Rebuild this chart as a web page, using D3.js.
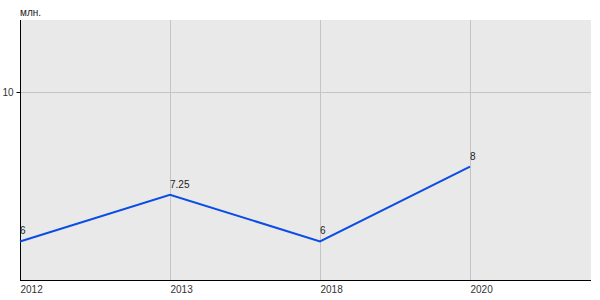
<!DOCTYPE html>
<html><head><meta charset="utf-8">
<script src="https://cdn.jsdelivr.net/npm/d3@7"></script>
<style>body{margin:0;background:#fff}svg{display:block}text{font-family:"Liberation Sans",Arial,sans-serif}</style>
</head><body>
<svg id="c" width="600" height="300"></svg>
<script>
const categories = ["2012", "2013", "2018", "2020"];
const values = [6, 7.25, 6, 8];
const yTicks = [10];
const unitLabel = "млн.";

(function () {
const svg = d3.select("#c");
const mLeft = 20, mRight = 591, mTop = 20, mBottom = 280;
const x = d3.scalePoint().domain(categories).range([mLeft, mLeft + 450]);
const y = d3.scaleLinear().domain([4.97, 11.92]).range([mBottom, mTop]);

svg.append("rect").attr("x", mLeft).attr("y", mTop).attr("width", mRight - mLeft).attr("height", mBottom - mTop).attr("fill", "#e9e9e9");

// vertical grid
svg.append("g").selectAll("line").data(categories.slice(1)).join("line")
  .attr("x1", d => x(d) + 0.5).attr("x2", d => x(d) + 0.5)
  .attr("y1", mTop).attr("y2", mBottom).attr("stroke", "#c4c4c4").attr("stroke-width", 1);
// horizontal grid
svg.append("g").selectAll("line").data(yTicks).join("line")
  .attr("x1", mLeft).attr("x2", mRight)
  .attr("y1", d => Math.round(y(d)) + 0.5).attr("y2", d => Math.round(y(d)) + 0.5)
  .attr("stroke", "#c4c4c4");

// y axis
const ya = svg.append("g").attr("transform", `translate(${mLeft + 0.5},0)`)
  .call(d3.axisLeft(y).tickValues(yTicks).tickFormat(d3.format("d")).tickSize(4).tickSizeOuter(0).tickPadding(3));
ya.select(".domain").attr("stroke", "#000").attr("d", `M0,${mTop}V${mBottom}`);
ya.selectAll(".tick line").attr("stroke", "#000");
ya.selectAll(".tick").attr("transform", d => `translate(0,${Math.round(y(d)) + 0.5})`);
ya.selectAll("text").attr("font-size", 10).attr("fill", "#333").attr("font-family", "Liberation Sans, Arial, sans-serif");

// x axis
const xa = svg.append("g").attr("transform", `translate(0,${mBottom + 0.5})`)
  .call(d3.axisBottom(x).tickSize(0).tickPadding(0));
xa.select(".domain").attr("stroke", "#000").attr("d", `M${mLeft},0H${mRight}`);
xa.selectAll(".tick text").attr("text-anchor", "start").attr("dy", null).attr("y", 12)
  .attr("font-size", 10).attr("fill", "#333").attr("font-family", "Liberation Sans, Arial, sans-serif");

// unit label
svg.append("text").attr("x", mLeft).attr("y", 16).attr("font-size", 10).attr("fill", "#222").text(unitLabel);

// line
const line = d3.line().x((d, i) => x(categories[i])).y(d => y(d));
svg.append("path").datum(values).attr("d", line).attr("fill", "none")
  .attr("stroke", "#0a4ce6").attr("stroke-width", 2);

// labels
svg.append("g").selectAll("text").data(values).join("text")
  .attr("x", (d, i) => x(categories[i]))
  .attr("y", d => y(d) - 7)
  .attr("font-size", 10).attr("fill", "#222")
  .text(d => d3.format("~g")(d));
})();
</script>
</body></html>
